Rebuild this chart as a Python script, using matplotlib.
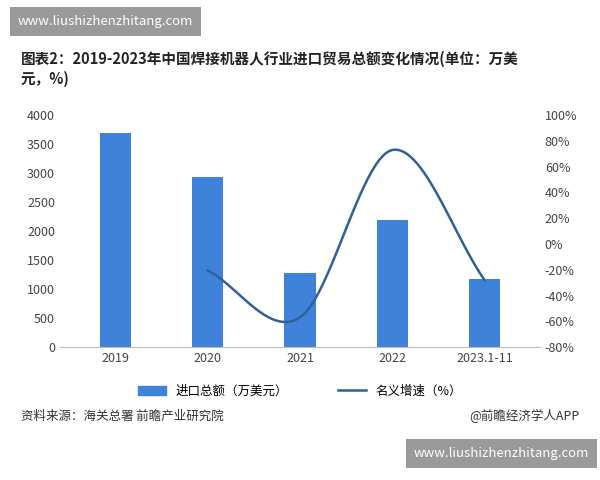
import numpy as np
import matplotlib
matplotlib.use("Agg")
import matplotlib.pyplot as plt
from matplotlib.lines import Line2D
from matplotlib.patches import Patch

plt.rcParams['font.family'] = ['Noto Sans CJK SC', 'DejaVu Sans']

years = ["2019", "2020", "2021", "2022", "2023.1-11"]
imports = [3700, 2940, 1270, 2200, 1170]
growth = [None, -20.5, -57, 73, -28]

bar_color = "#3f82d9"
line_color = "#2f6196"

fig = plt.figure(figsize=(6, 4.8), dpi=100)
ax = fig.add_axes([0.1, 0.277, 0.8, 0.483])
x = np.arange(len(years))
ax.bar(x, imports, width=0.34, color=bar_color)
ax.set_ylim(0, 4000)
ax.set_yticks(range(0, 4001, 500))
ax.set_xlim(-0.6, len(years) - 0.4)
ax.set_xticks(x)
ax.set_xticklabels(years)
for s in ["top", "right", "left"]:
    ax.spines[s].set_visible(False)
ax.spines["bottom"].set_color("#bbbbbb")
ax.tick_params(length=0, labelsize=9, colors="#444444")

ax2 = ax.twinx()
gx = np.array([i for i, g in enumerate(growth) if g is not None], float)
gy = np.array([g for g in growth if g is not None], float)
# smooth (Catmull-Rom) rendering through the points
px = np.concatenate([[2 * gx[0] - gx[1]], gx, [2 * gx[-1] - gx[-2]]])
py = np.concatenate([[2 * gy[0] - gy[1]], gy, [2 * gy[-1] - gy[-2]]])
sx, sy = [], []
t = np.linspace(0, 1, 30)
for i in range(1, len(px) - 2):
    for P, out in ((px, sx), (py, sy)):
        p0, p1, p2, p3 = P[i - 1:i + 3]
        out.extend(0.5 * (2 * p1 + (-p0 + p2) * t + (2 * p0 - 5 * p1 + 4 * p2 - p3) * t ** 2
                          + (-p0 + 3 * p1 - 3 * p2 + p3) * t ** 3))
ax2.plot(sx, sy, color=line_color, lw=1.8)
ax2.set_ylim(-80, 100)
ax2.set_yticks(range(-80, 101, 20))
ax2.set_yticklabels([f"{v}%" for v in range(-80, 101, 20)])
for s in ["top", "right", "left", "bottom"]:
    ax2.spines[s].set_visible(False)
ax2.tick_params(length=0, labelsize=9, colors="#444444")

fig.text(0.035, 0.895, "图表2：2019-2023年中国焊接机器人行业进口贸易总额变化情况(单位：万美\n元，%)",
         fontsize=10.5, fontweight="bold", va="top", color="#222222", linespacing=1.3)

handles = [Patch(color=bar_color), Line2D([], [], color=line_color, lw=1.8)]
fig.legend(handles, ["进口总额（万美元）", "名义增速（%）"], loc="center", bbox_to_anchor=(0.5, 0.185),
           ncol=2, frameon=False, fontsize=9, columnspacing=4, handlelength=2.2)

fig.text(0.035, 0.125, "资料来源：海关总署 前瞻产业研究院", fontsize=9, color="#333333")
fig.text(0.965, 0.125, "@前瞻经济学人APP", fontsize=9, color="#333333", ha="right")

fig.text(0.03, 0.955, "www.liushizhenzhitang.com", fontsize=9.5, color="white", va="center",
         bbox=dict(boxstyle="square,pad=0.6", fc="#9a9a9a", ec="none"))
fig.text(0.69, 0.055, "www.liushizhenzhitang.com", fontsize=9.5, color="white", va="center",
         bbox=dict(boxstyle="square,pad=0.6", fc="#9a9a9a", ec="none"))

fig.savefig("out.png", dpi=100)
